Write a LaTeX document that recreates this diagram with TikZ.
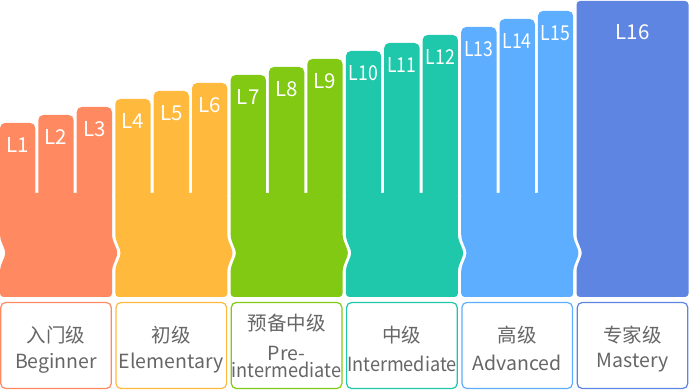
\documentclass[tikz,border=0pt]{standalone}
\usepackage{fontspec}
\setmainfont{Noto Sans CJK SC}
\usepackage{tikz}
\definecolor{orangelvl}{HTML}{FF8A62}
\definecolor{yellowlvl}{HTML}{FFB93D}
\definecolor{greenlvl}{HTML}{82C914}
\definecolor{teallvl}{HTML}{1FC8AA}
\definecolor{skylvl}{HTML}{5EAEFF}
\definecolor{bluelvl}{HTML}{5F85E2}
\definecolor{textgray}{HTML}{666666}
\newcommand{\slitend}{193}
\newcommand{\handbot}{297}
\newcommand{\fingerbot}{200}
\tikzset{
  lvl/.style={text=white, font=\fontsize{20.5}{22}\selectfont, inner sep=0pt},
  lvlnarrow/.style={lvl, xscale=0.86, transform shape},
  levelbox/.style={draw, line width=1.2pt, fill=white, rounded corners=5pt, minimum width=110.6pt, minimum height=86pt, inner sep=0pt},
  zh/.style={text=textgray, font=\fontsize{19.5}{20}\selectfont, inner sep=0pt},
  en/.style={text=textgray, font=\fontsize{19.5}{20}\selectfont, inner sep=0pt},
  finger/.style={rounded corners=5pt},
  palm/.style={rounded corners=3.5pt}
}

\begin{document}
\begin{tikzpicture}[x=1pt, y=-1pt]
\useasboundingbox (0,0) rectangle (689,390);
%L1-L3
\fill[orangelvl, palm] (0,\slitend) -- (0,238) -- (6,253) -- (0,268) -- (0,\handbot) -- (112,\handbot) -- (112,268) -- (118,253) -- (112,238) -- (112,\slitend) -- cycle;
\fill[orangelvl, finger] (0,123) rectangle (35.3,\fingerbot);
\fill[orangelvl, finger] (38.3,115) rectangle (73.7,\fingerbot);
\fill[orangelvl, finger] (76.7,107) rectangle (112,\fingerbot);
\node[lvl] (l1) at (17.65,145) {L1};
\node[lvl] (l2) at (56,137) {L2};
\node[lvl] (l3) at (94.35,129) {L3};
%L4-L6
\fill[yellowlvl, palm] (115.3,\slitend) -- (115.3,238) -- (121.3,253) -- (115.3,268) -- (115.3,\handbot) -- (227.3,\handbot) -- (227.3,268) -- (233.3,253) -- (227.3,238) -- (227.3,\slitend) -- cycle;
\fill[yellowlvl, finger] (115.3,99) rectangle (150.6,\fingerbot);
\fill[yellowlvl, finger] (153.6,91) rectangle (189,\fingerbot);
\fill[yellowlvl, finger] (192,83) rectangle (227.3,\fingerbot);
\node[lvl] (l4) at (132.95,121) {L4};
\node[lvl] (l5) at (171.3,113) {L5};
\node[lvl] (l6) at (209.65,105) {L6};
%L7-L9
\fill[greenlvl, palm] (230.6,\slitend) -- (230.6,238) -- (236.6,253) -- (230.6,268) -- (230.6,\handbot) -- (342.6,\handbot) -- (342.6,268) -- (348.6,253) -- (342.6,238) -- (342.6,\slitend) -- cycle;
\fill[greenlvl, finger] (230.6,75) rectangle (265.9,\fingerbot);
\fill[greenlvl, finger] (268.9,67) rectangle (304.3,\fingerbot);
\fill[greenlvl, finger] (307.3,59) rectangle (342.6,\fingerbot);
\node[lvl] (l7) at (248.25,97) {L7};
\node[lvl] (l8) at (286.6,89) {L8};
\node[lvl] (l9) at (324.95,81) {L9};
%L10-L12
\fill[teallvl, palm] (345.9,\slitend) -- (345.9,238) -- (351.9,253) -- (345.9,268) -- (345.9,\handbot) -- (457.9,\handbot) -- (457.9,268) -- (463.9,253) -- (457.9,238) -- (457.9,\slitend) -- cycle;
\fill[teallvl, finger] (345.9,51) rectangle (381.2,\fingerbot);
\fill[teallvl, finger] (384.2,43) rectangle (419.6,\fingerbot);
\fill[teallvl, finger] (422.6,35) rectangle (457.9,\fingerbot);
\node[lvlnarrow] (l10) at (363.55,73) {L10};
\node[lvlnarrow] (l11) at (401.9,65) {L11};
\node[lvlnarrow] (l12) at (440.25,57) {L12};
%L13-L15
\fill[skylvl, palm] (461.2,\slitend) -- (461.2,238) -- (467.2,253) -- (461.2,268) -- (461.2,\handbot) -- (573.2,\handbot) -- (573.2,268) -- (579.2,253) -- (573.2,238) -- (573.2,\slitend) -- cycle;
\fill[skylvl, finger] (461.2,27) rectangle (496.5,\fingerbot);
\fill[skylvl, finger] (499.5,19) rectangle (534.9,\fingerbot);
\fill[skylvl, finger] (537.9,11) rectangle (573.2,\fingerbot);
\node[lvlnarrow] (l13) at (478.85,49) {L13};
\node[lvlnarrow] (l14) at (517.2,41) {L14};
\node[lvlnarrow] (l15) at (555.55,33) {L15};
%L16
\fill[bluelvl, palm] (576.5,1) -- (576.5,238) -- (582.5,253) -- (576.5,268) -- (576.5,\handbot) -- (688.5,\handbot) -- (688.5,1) -- cycle;
\node[lvl] (l16) at (632.5,32) {L16};
%boxes
\node[levelbox, draw=orangelvl] (box1) at (56,345.5) {};
\node[levelbox, draw=yellowlvl] (box2) at (171.3,345.5) {};
\node[levelbox, draw=greenlvl] (box3) at (286.6,345.5) {};
\node[levelbox, draw=teallvl] (box4) at (401.9,345.5) {};
\node[levelbox, draw=skylvl] (box5) at (517.2,345.5) {};
\node[levelbox, draw=bluelvl] (box6) at (632.5,345.5) {};
\node[zh] (zh1) at (56,335) {入门级};
\node[en] (en1) at (56,363) {Beginner};
\node[zh] (zh2) at (171.3,335) {初级};
\node[en] (en2) at (171.3,363) {Elementary};
\node[zh] (zh3) at (286.6,323) {预备中级};
\node[en] (en3a) at (286.6,353) {Pre-};
\node[en, xscale=0.93, transform shape] (en3b) at (286.6,370) {intermediate};
\node[zh] (zh4) at (401.9,335) {中级};
\node[en, xscale=0.93, transform shape] (en4) at (401.9,364) {Intermediate};
\node[zh] (zh5) at (517.2,335) {高级};
\node[en] (en5) at (517.2,363) {Advanced};
\node[zh] (zh6) at (632.5,335) {专家级};
\node[en] (en6) at (632.5,363) {Mastery};
\end{tikzpicture}
\end{document}
